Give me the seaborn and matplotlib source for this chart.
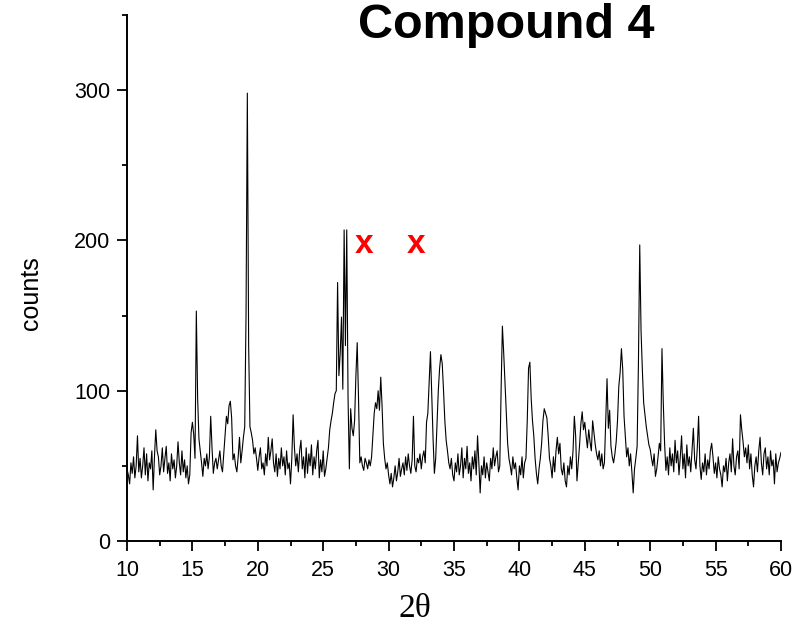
import numpy as np
import pandas as pd
import matplotlib
matplotlib.use("Agg")
import matplotlib.pyplot as plt
from matplotlib.ticker import MultipleLocator
import seaborn as sns

# ---- data (0.1 degree steps from 10.0 to 60.0) ----
counts_10 = [48, 44, 38, 52, 45, 56, 42, 50, 70, 46]
counts_11 = [55, 42, 50, 62, 44, 58, 40, 52, 48, 60]
counts_12 = [34, 56, 74, 60, 56, 44, 50, 62, 46, 55]
counts_13 = [63, 45, 52, 40, 58, 48, 54, 42, 50, 66]
counts_14 = [52, 44, 60, 46, 54, 42, 50, 38, 44, 72]
counts_15 = [79, 71, 55, 153, 95, 68, 60, 52, 43, 55]
counts_16 = [50, 58, 48, 56, 83, 62, 45, 52, 55, 48]
counts_17 = [54, 60, 50, 46, 58, 70, 83, 78, 90, 93]
counts_18 = [82, 54, 58, 50, 46, 56, 69, 52, 60, 69]
counts_19 = [76, 150, 298, 130, 76, 72, 67, 58, 62, 55]
counts_20 = [47, 56, 62, 48, 52, 44, 58, 50, 69, 54]
counts_21 = [60, 68, 52, 46, 58, 43, 55, 48, 62, 50]
counts_22 = [56, 44, 60, 48, 52, 38, 55, 84, 62, 50]
counts_23 = [58, 46, 60, 67, 48, 56, 42, 62, 45, 58]
counts_24 = [50, 64, 44, 56, 48, 60, 67, 42, 54, 46]
counts_25 = [60, 43, 48, 55, 62, 74, 80, 85, 92, 98]
counts_26 = [100, 172, 110, 125, 149, 101, 207, 130, 207, 95]
counts_27 = [48, 88, 75, 70, 80, 110, 132, 95, 52, 56]
counts_28 = [50, 47, 55, 52, 48, 54, 50, 56, 70, 85]
counts_29 = [92, 88, 100, 87, 109, 90, 65, 55, 48, 52]
counts_30 = [44, 38, 45, 36, 42, 50, 40, 46, 55, 43]
counts_31 = [48, 52, 44, 56, 47, 58, 50, 45, 54, 83]
counts_32 = [50, 46, 55, 52, 58, 48, 56, 60, 52, 79]
counts_33 = [85, 105, 126, 98, 68, 45, 55, 78, 100, 115]
counts_34 = [124, 118, 100, 80, 67, 60, 52, 48, 55, 44]
counts_35 = [40, 52, 46, 58, 44, 50, 62, 42, 55, 48]
counts_36 = [63, 45, 52, 40, 56, 48, 60, 44, 70, 52]
counts_37 = [32, 50, 44, 56, 42, 52, 46, 40, 55, 48]
counts_38 = [62, 50, 56, 60, 46, 50, 100, 143, 125, 105]
counts_39 = [85, 65, 55, 50, 44, 56, 48, 52, 42, 34]
counts_40 = [50, 44, 56, 42, 52, 55, 80, 115, 119, 95]
counts_41 = [80, 70, 55, 45, 38, 48, 55, 65, 80, 88]
counts_42 = [85, 82, 70, 55, 50, 42, 56, 46, 60, 69]
counts_43 = [58, 65, 48, 44, 52, 40, 36, 50, 44, 56]
counts_44 = [48, 60, 83, 70, 40, 52, 64, 78, 86, 74]
counts_45 = [79, 70, 62, 74, 66, 60, 80, 72, 64, 58]
counts_46 = [54, 60, 50, 58, 48, 52, 80, 108, 75, 87]
counts_47 = [63, 56, 52, 58, 66, 80, 103, 112, 128, 114]
counts_48 = [83, 70, 56, 62, 50, 58, 46, 32, 48, 55]
counts_49 = [63, 118, 197, 140, 114, 92, 84, 76, 70, 64]
counts_50 = [61, 55, 50, 58, 43, 48, 56, 65, 60, 128]
counts_51 = [92, 65, 47, 56, 44, 62, 50, 58, 46, 67]
counts_52 = [52, 60, 44, 56, 70, 48, 58, 42, 64, 50]
counts_53 = [56, 46, 60, 75, 54, 48, 62, 83, 50, 41]
counts_54 = [52, 46, 58, 44, 54, 48, 60, 65, 56, 45]
counts_55 = [52, 42, 56, 48, 44, 36, 50, 46, 55, 40]
counts_56 = [52, 58, 46, 68, 50, 44, 56, 60, 48, 84]
counts_57 = [74, 66, 56, 62, 52, 64, 48, 58, 44, 36]
counts_58 = [50, 56, 46, 60, 69, 52, 44, 58, 62, 48]
counts_59 = [56, 44, 60, 50, 54, 38, 58, 46, 52, 55]
counts_60 = [59]

counts = (counts_10 + counts_11 + counts_12 + counts_13 + counts_14 + counts_15 +
          counts_16 + counts_17 + counts_18 + counts_19 + counts_20 + counts_21 +
          counts_22 + counts_23 + counts_24 + counts_25 + counts_26 + counts_27 +
          counts_28 + counts_29 + counts_30 + counts_31 + counts_32 + counts_33 +
          counts_34 + counts_35 + counts_36 + counts_37 + counts_38 + counts_39 +
          counts_40 + counts_41 + counts_42 + counts_43 + counts_44 + counts_45 +
          counts_46 + counts_47 + counts_48 + counts_49 + counts_50 + counts_51 +
          counts_52 + counts_53 + counts_54 + counts_55 + counts_56 + counts_57 +
          counts_58 + counts_59 + counts_60)
two_theta = np.round(np.linspace(10.0, 60.0, len(counts)), 2)

marker_x = [28.1, 32.1]
marker_y = [197, 197]

title_text = "Compound 4"
x_label = "2\u03b8"
y_label = "counts"

df = pd.DataFrame({"two_theta": two_theta, "counts": counts})

# ---- figure ----
sns.set_style("ticks")
plt.rcParams["font.family"] = ["Liberation Sans", "DejaVu Sans"]
plt.rcParams["text.color"] = "black"
plt.rcParams["axes.labelcolor"] = "black"

fig = plt.figure(figsize=(7.99, 6.29), dpi=100)
ax = fig.add_axes([127 / 799, 1 - 541 / 629, (781 - 127) / 799, (541 - 15) / 629])

sns.lineplot(data=df, x="two_theta", y="counts", color="black", linewidth=0.8,
             sort=False, estimator=None, ax=ax)

for mx, my in zip(marker_x, marker_y):
    ax.text(mx, my, "x", color="#ff0000", fontsize=24, fontweight="bold",
            ha="center", va="center")

ax.set_xlim(10, 60)
ax.set_ylim(0, 350)
ax.xaxis.set_major_locator(MultipleLocator(5))
ax.xaxis.set_minor_locator(MultipleLocator(2.5))
ax.yaxis.set_major_locator(MultipleLocator(100))
ax.yaxis.set_minor_locator(MultipleLocator(50))

for s in ["top", "right"]:
    ax.spines[s].set_visible(False)
for s in ["left", "bottom"]:
    ax.spines[s].set_linewidth(1.4)
    ax.spines[s].set_color("black")

ax.tick_params(axis="both", which="major", direction="out", length=7, width=1.3,
               labelsize=15.5, colors="black")
ax.tick_params(axis="x", which="major", pad=7)
ax.tick_params(axis="y", which="major", pad=5)
ax.tick_params(axis="both", which="minor", direction="out", length=3.5, width=1.3,
               colors="black")

ax.set_xlabel(x_label, fontsize=24, color="black",
              family=["Liberation Serif", "DejaVu Serif"])
ax.set_ylabel(y_label, fontsize=18, color="black")
ax.xaxis.set_label_coords(0.44, -0.1)
ax.yaxis.set_label_coords(-0.128, 0.4715)

fig.text(0.634, 1 - 38 / 629, title_text, fontsize=35, fontweight="bold",
         color="black", ha="center", va="baseline")

fig.savefig("out.png", dpi=100, facecolor="white")
